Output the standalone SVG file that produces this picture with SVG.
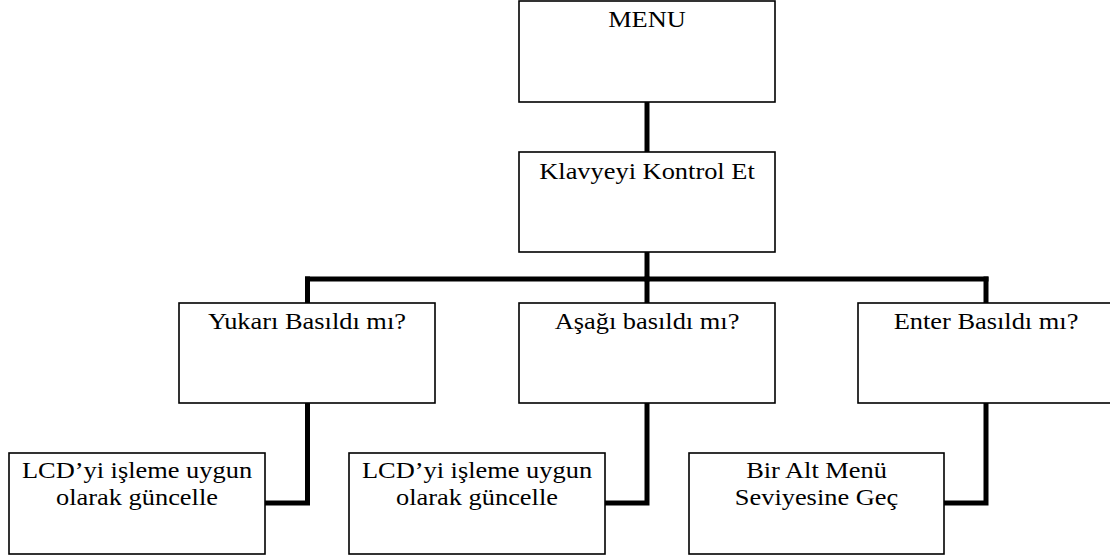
<svg xmlns="http://www.w3.org/2000/svg" width="1110" height="557" viewBox="0 0 1110 557">
<style>
.box{fill:#fff;stroke:#000;stroke-width:1.6}
.t{font-family:"Liberation Serif","Times New Roman",serif;font-size:24px;fill:#000;text-anchor:middle}
.c{fill:none;stroke:#000;stroke-width:5;stroke-linecap:square;stroke-linejoin:miter}
</style>
<rect width="1110" height="557" fill="#fff"/>
<g id="connectors">
<path class="c" d="M647 102V152"/>
<path class="c" d="M647 252V279"/>
<path class="c" d="M307.5 279H986"/>
<path class="c" d="M307.5 279V303"/>
<path class="c" d="M647 279V303"/>
<path class="c" d="M986 279V303"/>
<path class="c" d="M307.5 403V503H265"/>
<path class="c" d="M647 403V503H605"/>
<path class="c" d="M986 403V503H944"/>
</g>
<g id="menu">
<rect class="box" x="519" y="1" width="256" height="101"/>
<text class="t" transform="translate(647,27.3) scale(1.1,1)">MENU</text>
</g>
<g id="klavye">
<rect class="box" x="519" y="152" width="256" height="100"/>
<text class="t" transform="translate(647,178.5) scale(1.1,1)">Klavyeyi Kontrol Et</text>
</g>
<g id="yukari">
<rect class="box" x="179" y="303" width="256" height="100"/>
<text class="t" transform="translate(307,328.5) scale(1.1,1)">Yukarı Basıldı mı?</text>
</g>
<g id="asagi">
<rect class="box" x="519" y="303" width="256" height="100"/>
<text class="t" transform="translate(647,328.5) scale(1.1,1)">Aşağı basıldı mı?</text>
</g>
<g id="enter">
<rect class="box" x="858" y="303" width="256" height="100"/>
<text class="t" transform="translate(986,328.5) scale(1.1,1)">Enter Basıldı mı?</text>
</g>
<g id="lcd1">
<rect class="box" x="9" y="453" width="256" height="101"/>
<text class="t" transform="translate(137,477.7) scale(1.1,1)">LCD’yi işleme uygun</text>
<text class="t" transform="translate(137,505.3) scale(1.1,1)">olarak güncelle</text>
</g>
<g id="lcd2">
<rect class="box" x="349" y="453" width="256" height="101"/>
<text class="t" transform="translate(477,477.7) scale(1.1,1)">LCD’yi işleme uygun</text>
<text class="t" transform="translate(477,505.3) scale(1.1,1)">olarak güncelle</text>
</g>
<g id="altmenu">
<rect class="box" x="689" y="453" width="255" height="101"/>
<text class="t" transform="translate(816.5,477.7) scale(1.1,1)">Bir Alt Menü</text>
<text class="t" transform="translate(816.5,505.3) scale(1.1,1)">Seviyesine Geç</text>
</g>
</svg>
